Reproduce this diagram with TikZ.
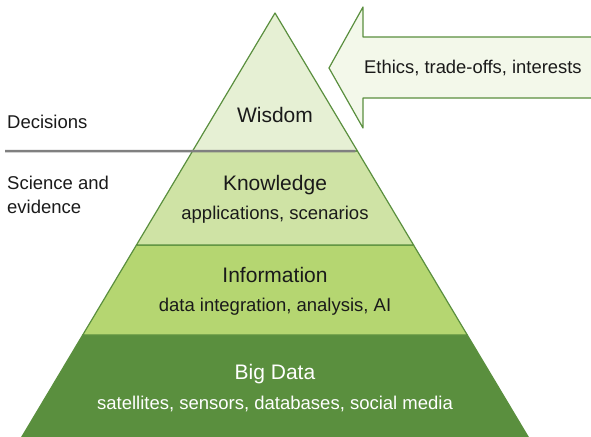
\documentclass[tikz,border=0pt]{standalone}
\usepackage{fontspec}
\setmainfont{Liberation Sans}
\usetikzlibrary{positioning, calc}

\definecolor{wisdomfill}{RGB}{230,240,212}
\definecolor{knowfill}{RGB}{207,227,165}
\definecolor{infofill}{RGB}{181,214,113}
\definecolor{datafill}{RGB}{90,143,62}
\definecolor{edgegreen}{RGB}{90,143,62}
\definecolor{arrowfill}{RGB}{243,248,234}
\definecolor{textdark}{RGB}{26,26,26}

\begin{document}
\begin{tikzpicture}[x=1pt, y=-1pt,
    layer/.style={draw=edgegreen, line width=1.2pt, line join=round},
    mainlbl/.style={inner sep=0pt, text=textdark, font=\fontsize{21}{24}\selectfont},
    sublbl/.style={inner sep=0pt, text=textdark, font=\fontsize{18.5}{22}\selectfont},
    sidelbl/.style={inner sep=0pt, anchor=west, align=left, text=textdark, font=\fontsize{18.5}{24}\selectfont},
    ]
    \useasboundingbox (0,0) rectangle (591,436);

    % Pyramid corners and layer cuts
    \coordinate (apex) at (275,13);
    \coordinate (bl) at (20,440);
    \coordinate (br) at (530,440);
    \coordinate (kl) at ($(apex)!0.3232!(bl)$);
    \coordinate (kr) at ($(apex)!0.3232!(br)$);
    \coordinate (il) at ($(apex)!0.5433!(bl)$);
    \coordinate (ir) at ($(apex)!0.5433!(br)$);
    \coordinate (dl) at ($(apex)!0.7541!(bl)$);
    \coordinate (dr) at ($(apex)!0.7541!(br)$);

    % Layers, bottom to top
    \filldraw[layer, fill=datafill] (dl) -- (dr) -- (br) -- (bl) -- cycle;
    \filldraw[layer, fill=infofill] (il) -- (ir) -- (dr) -- (dl) -- cycle;
    \filldraw[layer, fill=knowfill] (kl) -- (kr) -- (ir) -- (il) -- cycle;
    \filldraw[layer, fill=wisdomfill] (apex) -- (kr) -- (kl) -- cycle;

    % Layer labels
    \node[mainlbl] (wisdom) at (275,115) {Wisdom};
    \node[mainlbl] (knowledge) at (275,185) {Knowledge};
    \node[sublbl] (knowledgesub) at (275,215) {applications, scenarios};
    \node[mainlbl] (information) at (275,275) {Information};
    \node[sublbl] (informationsub) at (275,307) {data integration, analysis, AI};
    \node[mainlbl, text=white] (bigdata) at (275,374) {Big Data};
    \node[sublbl, text=white] (bigdatasub) at (275,404) {satellites, sensors, databases, social media};

    % Divider between decisions and evidence
    \coordinate (cut) at (5,151);
    \draw[line width=2.5pt, black!50] (cut) -- ($(kr)+(-2,0)$);
    \node[sidelbl] (decisions) at (7,122) {Decisions};
    \node[sidelbl] (science) at (7,195) {Science and\\evidence};

    % Arrow into the top
    \filldraw[layer, fill=arrowfill] (600,37) -- (363,37) -- (363,7) -- (329,68)
        -- (363,128) -- (363,98) -- (600,98);
    \node[sublbl, anchor=west, font=\fontsize{18.4}{22}\selectfont] (ethics) at (364,68) {Ethics, trade-offs, interests};
\end{tikzpicture}
\end{document}
